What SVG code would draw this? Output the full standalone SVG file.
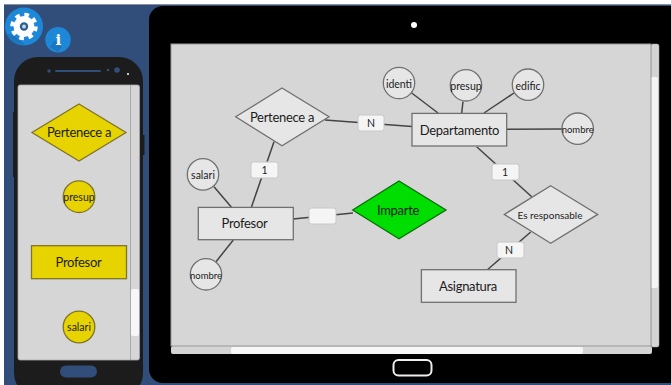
<svg xmlns="http://www.w3.org/2000/svg" width="671" height="385" viewBox="0 0 671 385">
<style>
text{font-family:"Lato","Liberation Sans",sans-serif;fill:#1c1c1c;text-anchor:middle;dominant-baseline:central}
.n{fill:#e6e6e6;stroke:#707070;stroke-width:1.3}
.y{fill:#e6d300;stroke:#7f7428;stroke-width:1.3}
.l{fill:#f5f5f5;stroke:#c8c8c8;stroke-width:1}
.c line{stroke:#444;stroke-width:1.5}
.t14{font-size:13px;letter-spacing:-.3px}.t11{font-size:10.500px}.t10{font-size:9.500px}
</style>
<rect width="671" height="385" fill="#fff"/>
<rect x="4" y="4" width="667" height="381" fill="#304e79"/>
<rect x="4" y="4" width="667" height="1" fill="#8a8f99"/>
<g id="tablet">
<rect x="149" y="6" width="540" height="377" rx="14" fill="#000"/>
<circle cx="414" cy="25" r="3" fill="#fff"/>
<rect x="651" y="44" width="8" height="303" rx="2" fill="#d4d4d4" stroke="#aaa" stroke-width=".5"/>
<rect x="650.500" y="77" width="7.500" height="211" rx="2" fill="#f5f5f5"/>
<rect x="171" y="346" width="481" height="8" rx="2" fill="#d4d4d4"/>
<rect x="231" y="347" width="352" height="7" rx="2" fill="#f7f7f7"/>
<rect x="171" y="44" width="480" height="302" fill="#d6d6d6" stroke="#999" stroke-width="1"/>
<rect x="393.500" y="360" width="38" height="15.500" rx="5" fill="none" stroke="#eee" stroke-width="2"/>
</g>
<g id="phone">
<rect x="14" y="57" width="129" height="340" rx="24" fill="#1c1c1c"/>
<rect x="13" y="112" width="2" height="65" fill="#1c1c1c"/>
<rect x="142" y="135" width="2.500" height="20" fill="#1c1c1c"/>
<circle cx="49" cy="71" r="1.700" fill="#304e79"/>
<rect x="55" y="70" width="46" height="2" rx="1" fill="#304e79"/>
<circle cx="108" cy="70" r="1.300" fill="#304e79"/>
<circle cx="117" cy="70" r="2.800" fill="#304e79"/>
<circle cx="128" cy="74" r="1" fill="#fff"/>
<rect x="18" y="85" width="121.500" height="275" rx="2" fill="#d6d6d6" stroke="#aaa" stroke-width=".8"/>
<line x1="130.500" y1="85" x2="130.500" y2="360" stroke="#aaa"/>
<rect x="131" y="289" width="8" height="47" rx="2" fill="#f7f7f7"/>
<rect x="60" y="365.500" width="37" height="12" rx="6" fill="#304e79"/>
</g>
<g id="settings-button">
<circle cx="24" cy="26.500" r="19" fill="#1e88d8"/>
<path d="M15 36 L26 45.500 L12 42 L6 33Z" fill="#1a6fb4" opacity=".7"/>
<circle cx="24" cy="26.500" r="10.500" fill="#fff"/>
<circle cx="24" cy="26.500" r="11.500" fill="none" stroke="#fff" stroke-width="4.500" stroke-dasharray="4.500 4.530"/>
<circle cx="24" cy="26.500" r="4.200" fill="#2a5f96"/>
<circle cx="24" cy="26.500" r="2" fill="#c9d6e4"/>
</g>
<g id="info-button">
<circle cx="58" cy="39.800" r="12.800" fill="#1e88d8"/>
<path d="M55 40 L62 47 L58 52 L50 47Z" fill="#1a6fb4" opacity=".7"/>
<text x="58.300" y="40" font-size="15" font-weight="700" style="fill:#fff;font-family:'DejaVu Serif',serif">i</text>
</g>
<g id="phone-rel"><polygon class="y" points="79,104 126,132.500 79,161 32,132.500"/><text x="79" y="132" class="t14">Pertenece a</text></g>
<g id="phone-presup"><circle class="y" cx="79" cy="196.700" r="15.800"/><text x="79" y="197" class="t11">presup</text></g>
<g id="phone-profesor"><rect class="y" x="31.500" y="245.700" width="95" height="33"/><text x="78.500" y="261.500" class="t14">Profesor</text></g>
<g id="phone-salari"><circle class="y" cx="79" cy="327" r="15.800"/><text x="79" y="327" class="t11">salari</text></g>
<g class="c" id="connectors">
<line x1="325" y1="120" x2="412" y2="126.500"/>
<line x1="274" y1="141.700" x2="251.300" y2="207.500"/>
<line x1="214" y1="186.700" x2="231.700" y2="207.500"/>
<line x1="233.300" y1="240" x2="216" y2="261.700"/>
<line x1="293" y1="219" x2="353" y2="213"/>
<line x1="411.700" y1="93" x2="438" y2="113"/>
<line x1="463" y1="101.500" x2="461.700" y2="113"/>
<line x1="514" y1="93" x2="484" y2="113"/>
<line x1="506.700" y1="129.300" x2="562" y2="129"/>
<line x1="476.700" y1="146.700" x2="531.700" y2="196.700"/>
<line x1="530.700" y1="232" x2="487.700" y2="269.500"/>
</g>
<g id="label-n1"><rect class="l" x="358" y="115" width="26" height="16" rx="2.500"/><text x="371" y="122.500" class="t11">N</text></g>
<g id="label-11"><rect class="l" x="251" y="162" width="27" height="16" rx="2.500"/><text x="264.500" y="169.500" class="t11">1</text></g>
<g id="label-empty"><rect class="l" x="309" y="208" width="27" height="16" rx="2.500"/></g>
<g id="label-12"><rect class="l" x="492" y="164" width="27" height="16" rx="2.500"/><text x="505" y="171.500" class="t11">1</text></g>
<g id="label-n2"><rect class="l" x="497" y="242" width="27" height="16" rx="2.500"/><text x="509" y="249.500" class="t11">N</text></g>
<g id="pertenece"><polygon class="n" points="282,88 329,116.800 282,145.700 235.700,116.800"/><text x="282" y="116.500" class="t14">Pertenece a</text></g>
<g id="profesor"><rect class="n" x="198.300" y="207.400" width="95" height="32.300"/><text x="244.500" y="222.500" class="t14">Profesor</text></g>
<g id="imparte"><polygon points="399,181 446,210 399,238.700 352.700,210" fill="#00dd00" stroke="#0a6e0a" stroke-width="1.300"/><text x="398" y="209.500" class="t14">Imparte</text></g>
<g id="departamento"><rect class="n" x="412" y="113.400" width="94.700" height="32.600"/><text x="459.500" y="129.500" class="t14">Departamento</text></g>
<g id="responsable"><polygon class="n" points="550.700,185.700 597.700,214.400 550.700,243.300 504.300,214.400"/><text x="550" y="215" font-size="10">Es responsable</text></g>
<g id="asignatura"><rect class="n" x="421.400" y="269.700" width="94.600" height="32.600"/><text x="468" y="285.500" class="t14">Asignatura</text></g>
<g id="salari"><circle class="n" cx="203" cy="174.400" r="15.700"/><text x="203" y="175" class="t11">salari</text></g>
<g id="nombre1"><circle class="n" cx="206" cy="274.300" r="15.700"/><text x="206" y="275" class="t10">nombre</text></g>
<g id="identi"><circle class="n" cx="399" cy="83" r="15.700"/><text x="399" y="84" class="t11">identi</text></g>
<g id="presup"><circle class="n" cx="466" cy="85.300" r="15.700"/><text x="466" y="86" class="t11">presup</text></g>
<g id="edific"><circle class="n" cx="528" cy="84.700" r="15.700"/><text x="528" y="85.500" class="t11">edific</text></g>
<g id="nombre2"><circle class="n" cx="577.700" cy="128.700" r="15.700"/><text x="577.700" y="129.500" class="t10">nombre</text></g>
</svg>
